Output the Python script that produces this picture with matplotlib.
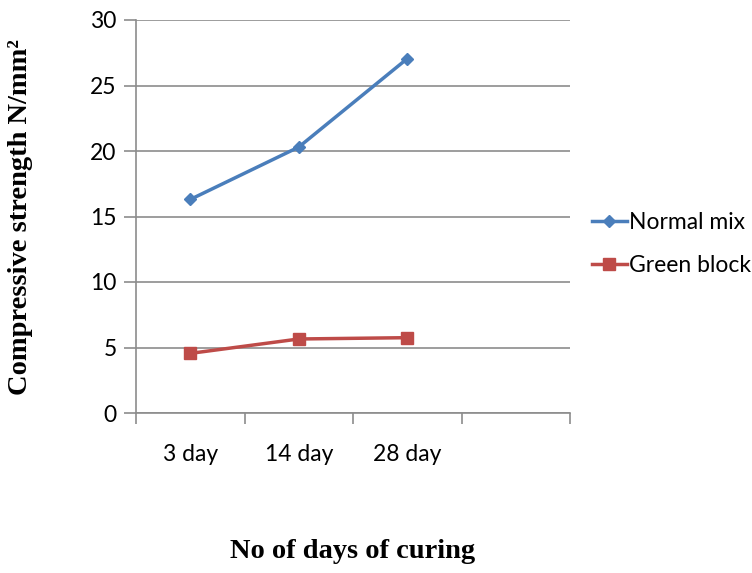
import matplotlib
matplotlib.use("Agg")
import matplotlib.pyplot as plt
import numpy as np

# curing ages and strengths (N/mm^2)
days = ["3 day", "14 day", "28 day"]
normal_mix = [16.3, 20.3, 27.05]
green_block = [4.55, 5.65, 5.75]
n_slots = 4  # category axis keeps one empty slot on the right

blue = "#4A7EBB"
red = "#BE4B48"
grid_col = "#8C8C8C"

fig = plt.figure(figsize=(7.52, 5.73), dpi=100)
ax = fig.add_axes([136/752, 1-413/573, (570-136)/752, (413-20)/573])

x = np.arange(len(days)) + 0.5
ax.plot(x, normal_mix, color=blue, lw=2.5, marker="D", ms=6, label="Normal mix")
ax.plot(x, green_block, color=red, lw=2.5, marker="s", ms=8, label="Green block")

ax.set_xlim(0, n_slots)
ax.set_ylim(0, 30)
ax.set_yticks(np.arange(0, 31, 5))
ax.set_xticks(np.arange(n_slots + 1))
ax.set_xticklabels([])
ax.set_xticks(x, minor=True)
ax.set_xticklabels(days, minor=True)
ax.tick_params(axis="x", which="minor", length=0, pad=22, labelsize=16.5)
ax.tick_params(axis="x", which="major", length=8, color=grid_col, width=1.2)
ax.tick_params(axis="y", length=9, color=grid_col, width=1.2, labelsize=16.5, pad=5)
for lab in ax.get_xticklabels(minor=True) + ax.get_yticklabels():
    lab.set_family("Lato")

ax.grid(axis="y", color=grid_col, lw=1.2)
ax.set_axisbelow(True)
for s in ["top", "right"]:
    ax.spines[s].set_visible(False)
for s in ["left", "bottom"]:
    ax.spines[s].set_color(grid_col)
    ax.spines[s].set_linewidth(1.2)

fig.text(353/752, 1-551/573, "No of days of curing", ha="center", va="center",
         family="Liberation Serif", weight="bold", fontsize=20.5)
fig.text(21/752, 1-217/573, "Compressive strength N/mm²", ha="center", va="center",
         rotation=90, family="Liberation Serif", weight="bold", fontsize=20.5)

leg = ax.legend(loc="center left", bbox_to_anchor=(1.03, 0.43), frameon=False,
                prop={"family": "Lato", "size": 16.5}, handlelength=1.5,
                handletextpad=0.1, labelspacing=0.95, borderaxespad=0)

fig.savefig("out.png", dpi=100)
